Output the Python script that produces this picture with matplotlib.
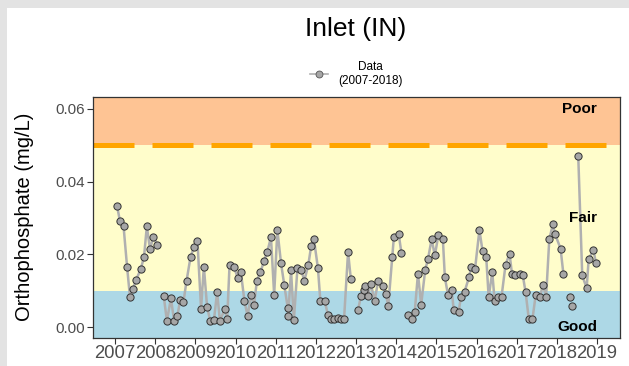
import numpy as np
import matplotlib
matplotlib.use("Agg")
import matplotlib.pyplot as plt
from matplotlib.patches import Rectangle
from matplotlib.lines import Line2D

plt.rcParams['font.family'] = ['Liberation Sans', 'DejaVu Sans']

# sampling dates as decimal years; NaN marks a break in the line
nan = np.nan
dates = [
    2007.05, 2007.12, 2007.21, 2007.30, 2007.37, 2007.45, 2007.52, 2007.64, 2007.72,
    2007.79, 2007.87, 2007.95, 2008.05, 2008.12,
    2008.21, 2008.29, 2008.39, 2008.47, 2008.55, 2008.62, 2008.70, 2008.78, 2008.88,
    2008.97, 2009.05, 2009.14, 2009.21, 2009.29, 2009.37, 2009.46, 2009.54, 2009.61,
    2009.73, 2009.79, 2009.85, 2009.96, 2010.05, 2010.13, 2010.22, 2010.30, 2010.38,
    2010.46, 2010.53, 2010.62, 2010.71, 2010.79, 2010.88, 2010.96, 2011.04, 2011.13,
    2011.21, 2011.30, 2011.31, 2011.38, 2011.45, 2011.54, 2011.64, 2011.71, 2011.81,
    2011.88, 2011.95, 2012.05, 2012.11, 2012.22, 2012.30, 2012.38, 2012.46, 2012.55,
    2012.62, 2012.70, 2012.80, 2012.87, 2012.96,
    2013.05, 2013.12, 2013.20, 2013.23, 2013.29, 2013.37, 2013.46, 2013.55, 2013.66,
    2013.74, 2013.80, 2013.90, 2013.94, 2014.06, 2014.13, 2014.22,
    2014.30, 2014.38, 2014.46, 2014.54, 2014.62, 2014.72, 2014.79, 2014.88, 2014.96,
    2015.05, 2015.16, 2015.21, 2015.29, 2015.38, 2015.43, 2015.55, 2015.61, 2015.70,
    2015.81, 2015.87, 2015.96, 2016.07, 2016.15, 2016.24, 2016.30, 2016.39, 2016.45,
    2016.53, 2016.62, 2016.72, 2016.82, 2016.88, 2016.95, 2017.07, 2017.15, 2017.22,
    2017.30, 2017.39, 2017.47, 2017.58, 2017.65, 2017.73, 2017.81, 2017.90, 2017.95,
    2018.09, 2018.16, 2018.24,
    2018.32, 2018.34,
    2018.37, 2018.45,
    2018.53, 2018.63, 2018.74, 2018.79, 2018.91, 2018.97,
]
values = [
    0.0333, 0.0292, 0.0278, 0.0164, 0.0083, 0.0105, 0.0129, 0.0160, 0.0193,
    0.0277, 0.0214, 0.0248, 0.0227, nan,
    0.0086, 0.0017, 0.0079, 0.0017, 0.0030, 0.0074, 0.0068, 0.0128, 0.0194,
    0.0221, 0.0237, 0.0051, 0.0166, 0.0056, 0.0017, 0.0019, 0.0096, 0.0017,
    0.0050, 0.0021, 0.0172, 0.0166, 0.0136, 0.0152, 0.0072, 0.0030, 0.0087,
    0.0062, 0.0127, 0.0152, 0.0182, 0.0207, 0.0247, 0.0089, 0.0267, 0.0177,
    0.0117, 0.0052, 0.0031, 0.0156, 0.0019, 0.0162, 0.0156, 0.0127, 0.0171,
    0.0222, 0.0242, 0.0162, 0.0072, 0.0072, 0.0032, 0.0022, 0.0022, 0.0026,
    0.0022, 0.0022, 0.0207, 0.0131, nan,
    0.0047, 0.0086, 0.0102, 0.0112, 0.0086, 0.0118, 0.0072, 0.0127, 0.0112,
    0.0092, 0.0057, 0.0192, 0.0247, 0.0256, 0.0203, nan,
    0.0032, 0.0021, 0.0042, 0.0147, 0.0062, 0.0157, 0.0187, 0.0242, 0.0197,
    0.0254, 0.0242, 0.0137, 0.0087, 0.0102, 0.0047, 0.0041, 0.0082, 0.0097,
    0.0137, 0.0166, 0.0159, 0.0267, 0.0208, 0.0192, 0.0083, 0.0151, 0.0071,
    0.0083, 0.0083, 0.0171, 0.0202, 0.0147, 0.0142, 0.0147, 0.0142, 0.0096,
    0.0022, 0.0022, 0.0087, 0.0083, 0.0117, 0.0083, 0.0242, 0.0283, 0.0257,
    0.0216, 0.0147, nan,
    0.0083, nan,
    0.0058, nan,
    0.0472, 0.0142, 0.0107, 0.0187, 0.0212, 0.0176,
]

years = list(range(2007, 2020))
good_max = 0.01
fair_max = 0.05
zone_labels = ['Poor', 'Fair', 'Good']
zone_label_y = [0.06, 0.03, 0.0]

W, H = 629, 366
fig = plt.figure(figsize=(W / 100, H / 100), dpi=100)
fig.patch.set_facecolor('#E3E3E3')
fig.patches.append(Rectangle((7 / W, 0), 1, 1 - 8 / H, transform=fig.transFigure,
                             facecolor='white', edgecolor='none', zorder=-1))

ax = fig.add_axes([93 / W, 1 - 338 / H, (620 - 93) / W, (338 - 97) / H])
ymin, ymax = -0.003, 0.0633
ax.set_ylim(ymin, ymax)
ax.set_xlim(2006.45, 2019.57)

# quality bands
ax.axhspan(ymin, good_max, color='#ADD8E6', lw=0, zorder=0)
ax.axhspan(good_max, fair_max, color='#FFFDCB', lw=0, zorder=0)
ax.axhspan(fair_max, ymax, color='#FEC494', lw=0, zorder=0)
ax.axhline(fair_max, color='#FFA500', lw=3.6, linestyle=(0, (8.2, 3.6)),
           dash_capstyle='butt', zorder=1)

ax.plot(dates, values, color='#B0B0B0', lw=1.8, marker='o', markersize=5.2,
        markerfacecolor='#A6A6A6', markeredgecolor='#333333', markeredgewidth=0.7,
        zorder=3)

for lab, yv in zip(zone_labels, zone_label_y):
    ax.text(2019, yv, lab, ha='right', va='center', fontsize=11,
            fontweight='bold', color='black', zorder=4)

ax.set_xticks(years)
ax.set_xticklabels([str(y) for y in years])
ax.set_yticks([0.0, 0.02, 0.04, 0.06])
ax.set_yticklabels(['0.00', '0.02', '0.04', '0.06'])
ax.tick_params(axis='x', labelsize=13.3, colors='#333333', labelcolor='#4D4D4D',
               length=4, width=0.8, pad=1)
ax.tick_params(axis='y', labelsize=11, colors='#333333', labelcolor='#4D4D4D',
               length=4, width=0.8, pad=2)
for s in ax.spines.values():
    s.set_color('#333333')
    s.set_linewidth(0.9)

fig.text(25 / W, 1 - 217 / H, 'Orthophosphate (mg/L)', rotation=90,
         ha='center', va='center', fontsize=14.5, color='black')
fig.text(356 / W, 1 - 29 / H, 'Inlet (IN)', ha='center', va='center',
         fontsize=19, color='black')

handle = Line2D([], [], color='#B0B0B0', lw=1.2, marker='o', markersize=5,
                markerfacecolor='#A6A6A6', markeredgecolor='#555555',
                markeredgewidth=0.6)
leg = fig.legend([handle], ['Data\n(2007-2018)'], loc='center',
                 bbox_to_anchor=(356 / W, 1 - 74 / H), frameon=False,
                 fontsize=8.5, handlelength=1.6, handletextpad=0.8)
for t in leg.get_texts():
    t.set_multialignment('center')

fig.savefig('out.png', dpi=100, facecolor=fig.get_facecolor())
